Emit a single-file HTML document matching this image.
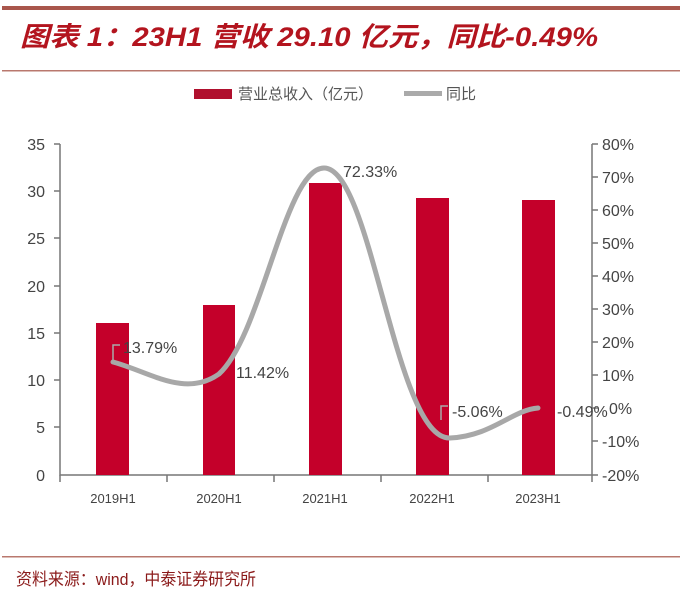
<!DOCTYPE html>
<html><head><meta charset="utf-8"><style>
body{margin:0;background:#fff;width:682px;height:591px;overflow:hidden;font-family:"Liberation Sans","Noto Sans CJK SC",sans-serif}
</style></head><body>
<svg width="682" height="591" xmlns="http://www.w3.org/2000/svg" font-family="Liberation Sans, Noto Sans CJK SC, sans-serif">
<rect x="2" y="6" width="678" height="4" fill="#a9564c"/>
<text x="20" y="46" font-size="27" font-weight="bold" font-style="italic" fill="#b3141e" textLength="578" lengthAdjust="spacingAndGlyphs">图表 1：23H1 营收 29.10 亿元，同比-0.49%</text>
<rect x="2" y="70" width="678" height="1.5" fill="#b9786e"/>
<rect x="194" y="89" width="38" height="10" fill="#b0102e"/>
<text x="238" y="99" font-size="15" fill="#555">营业总收入（亿元）</text>
<rect x="404" y="91" width="38" height="5" fill="#aaa"/>
<text x="446" y="99" font-size="15" fill="#555">同比</text>
<g stroke="#777" stroke-width="1.5" fill="none">
<path d="M60,144V475H592V144"/>
<path d="M54,144H60M54,191H60M54,238H60M54,286H60M54,333H60M54,380H60M54,427H60"/>
<path d="M592,144H598M592,177H598M592,210H598M592,243H598M592,276H598M592,309H598M592,342H598M592,375H598M592,408H598M592,441H598M592,475H598"/>
<path d="M60,475V482M167,475V482M274,475V482M381,475V482M488,475V482M592,475V482"/>
</g>
<g font-size="16" fill="#444" text-anchor="end">
<text x="45" y="150">35</text><text x="45" y="197">30</text><text x="45" y="244">25</text><text x="45" y="292">20</text><text x="45" y="339">15</text><text x="45" y="386">10</text><text x="45" y="433">5</text><text x="45" y="481">0</text>
</g>
<g font-size="16" fill="#444">
<text x="602" y="150">80%</text><text x="602" y="183">70%</text><text x="602" y="216">60%</text><text x="602" y="249">50%</text><text x="602" y="282">40%</text><text x="602" y="315">30%</text><text x="602" y="348">20%</text><text x="602" y="381">10%</text><text x="609" y="414">0%</text><text x="602" y="447">-10%</text><text x="602" y="481">-20%</text>
</g>
<g fill="#c4002a">
<rect x="96" y="323" width="33" height="152"/>
<rect x="203" y="305" width="32" height="170"/>
<rect x="309" y="183" width="33" height="292"/>
<rect x="416" y="198" width="33" height="277"/>
<rect x="522" y="200" width="33" height="275"/>
</g>
<path d="M113,362 C150,372 185,398 219,374 C262,335 285,168 324,168 C372,168 395,440 450,438 C492,436 512,410 538,408" stroke="#a8a8a8" stroke-width="5" fill="none" stroke-linecap="round"/>
<g stroke="#aaa" stroke-width="1.5" fill="none">
<path d="M113,360V345H120"/><path d="M441,420V406H448"/>
</g>
<g font-size="16" fill="#444">
<text x="123" y="353">13.79%</text>
<text x="236" y="378">11.42%</text>
<text x="343" y="177">72.33%</text>
<text x="452" y="417">-5.06%</text>
<text x="557" y="417">-0.49%</text>
</g>
<g font-size="13" fill="#444" text-anchor="middle">
<text x="113" y="503">2019H1</text><text x="219" y="503">2020H1</text><text x="325" y="503">2021H1</text><text x="432" y="503">2022H1</text><text x="538" y="503">2023H1</text>
</g>
<rect x="2" y="556" width="678" height="1.5" fill="#b9786e"/>
<text x="16" y="585" font-size="17" fill="#8b1a1a" textLength="240" lengthAdjust="spacingAndGlyphs">资料来源：wind，中泰证券研究所</text>
</svg>
</body></html>
